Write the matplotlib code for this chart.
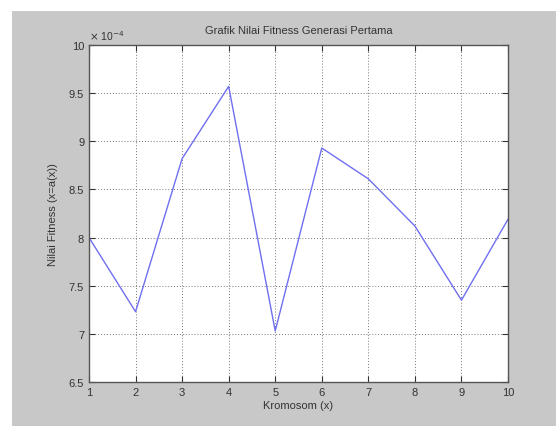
import matplotlib
matplotlib.use("Agg")
import matplotlib.pyplot as plt
from matplotlib.patches import Rectangle

kromosom = [1, 2, 3, 4, 5, 6, 7, 8, 9, 10]
fitness = [8.0, 7.23, 8.82, 9.57, 7.03, 8.93, 8.61, 8.12, 7.35, 8.19]
yticks = [6.5, 7, 7.5, 8, 8.5, 9, 9.5, 10]
ytick_labels = ["6.5", "7", "7.5", "8", "8.5", "9", "9.5", "10"]
xticks = kromosom

plt.rcParams['font.family'] = ['Liberation Sans', 'DejaVu Sans']

W, H = 556, 427
fig = plt.figure(figsize=(W / 100, H / 100), dpi=100, facecolor="white")
fig.patches.append(Rectangle((12 / W, 0), 1 - 12 / W, 1 - 12 / H,
                             transform=fig.transFigure, facecolor="#c8c8c8",
                             edgecolor="none", zorder=-10))

ax = fig.add_axes([89 / W, 1 - 383 / H, (508 - 89) / W, (383 - 46) / H])
ax.set_zorder(5)
ax.set_facecolor("white")
ax.plot(kromosom, fitness, color="#6f6ff0", lw=1.0)
ax.set_xlim(1, 10)
ax.set_ylim(6.5, 10)
ax.set_xticks(xticks)
ax.set_xticklabels([str(v) for v in xticks])
ax.set_yticks(yticks)
ax.set_yticklabels(ytick_labels)
ax.grid(True, color="#777777", linestyle=(0, (1, 2)), linewidth=0.7)
ax.tick_params(direction="in", labelsize=8, colors="#333333", length=4,
               top=True, right=True)
for s in ax.spines.values():
    s.set_color("#555555")
    s.set_linewidth(1.0)
ax.set_title("Grafik Nilai Fitness Generasi Pertama", fontsize=8,
             color="#333333", pad=9)
ax.set_xlabel("Kromosom (x)", fontsize=8, color="#333333", labelpad=2)
ax.set_ylabel("Nilai Fitness (x=a(x))", fontsize=8, color="#333333",
              labelpad=8)
ax.text(0.0, 1.01, r"$\times$ 10$^{-4}$", transform=ax.transAxes,
        fontsize=7.5, color="#333333", ha="left", va="bottom")

fig.savefig("out.png", dpi=100, facecolor=fig.get_facecolor())
